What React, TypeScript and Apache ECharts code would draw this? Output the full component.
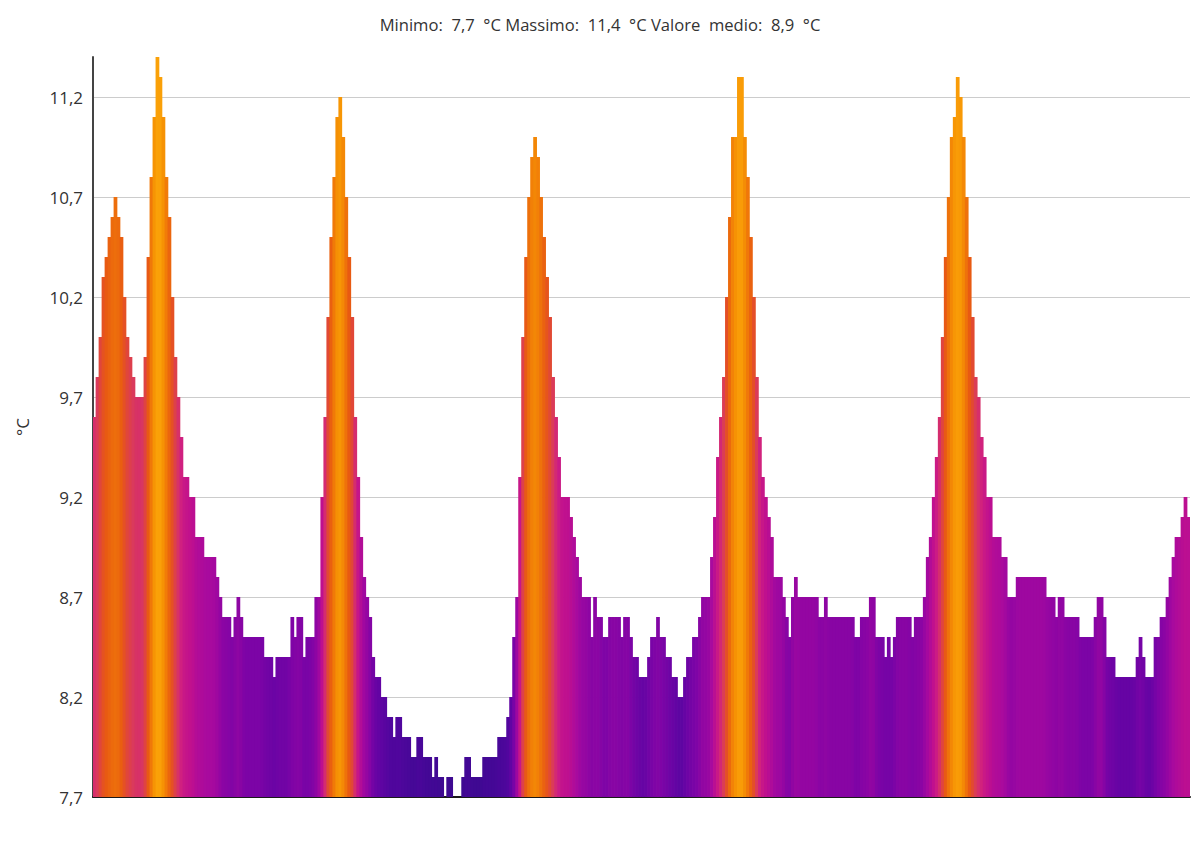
import React, { useEffect, useRef } from "react";
import * as echarts from "echarts";

// Temperature samples (°C), left to right
const values: number[] = [
  9.6, 9.8, 10.0, 10.3, 10.4, 10.5, 10.6, 10.7, 10.6, 10.5,
  10.2, 10.0, 9.9, 9.8, 9.7, 9.7, 9.7, 9.9, 10.4, 10.8,
  11.1, 11.4, 11.3, 11.1, 10.8, 10.6, 10.2, 9.9, 9.7, 9.5,
  9.3, 9.3, 9.2, 9.2, 9.0, 9.0, 9.0, 8.9, 8.9, 8.9,
  8.9, 8.8, 8.7, 8.6, 8.6, 8.6, 8.5, 8.6, 8.7, 8.6,
  8.5, 8.5, 8.5, 8.5, 8.5, 8.5, 8.5, 8.4, 8.4, 8.4,
  8.3, 8.4, 8.4, 8.4, 8.4, 8.4, 8.6, 8.5, 8.6, 8.6,
  8.4, 8.5, 8.5, 8.5, 8.7, 8.7, 9.2, 9.6, 10.1, 10.5,
  10.8, 11.1, 11.2, 11.0, 10.7, 10.4, 10.1, 9.6, 9.3, 9.0,
  8.8, 8.7, 8.6, 8.4, 8.3, 8.3, 8.2, 8.2, 8.1, 8.1,
  8.0, 8.1, 8.1, 8.0, 8.0, 8.0, 7.9, 7.9, 8.0, 8.0,
  7.9, 7.9, 7.9, 7.8, 7.9, 7.8, 7.8, 7.7, 7.8, 7.8,
  7.7, 7.7, 7.7, 7.8, 7.9, 7.9, 7.8, 7.8, 7.8, 7.8,
  7.9, 7.9, 7.9, 7.9, 7.9, 8.0, 8.0, 8.0, 8.1, 8.2,
  8.5, 8.7, 9.3, 10.0, 10.4, 10.7, 10.9, 11.0, 10.9, 10.7,
  10.5, 10.3, 10.1, 9.8, 9.6, 9.4, 9.2, 9.2, 9.2, 9.1,
  9.0, 8.9, 8.8, 8.7, 8.7, 8.7, 8.5, 8.7, 8.6, 8.6,
  8.5, 8.5, 8.6, 8.6, 8.6, 8.6, 8.5, 8.6, 8.6, 8.5,
  8.4, 8.4, 8.3, 8.3, 8.3, 8.4, 8.5, 8.5, 8.6, 8.5,
  8.5, 8.4, 8.4, 8.3, 8.3, 8.2, 8.2, 8.3, 8.4, 8.4,
  8.5, 8.5, 8.6, 8.7, 8.7, 8.7, 8.9, 9.1, 9.4, 9.6,
  9.8, 10.2, 10.6, 11.0, 11.0, 11.3, 11.3, 11.0, 10.8, 10.5,
  10.2, 9.8, 9.5, 9.3, 9.2, 9.1, 9.0, 8.8, 8.8, 8.8,
  8.7, 8.6, 8.5, 8.7, 8.8, 8.7, 8.7, 8.7, 8.7, 8.7,
  8.7, 8.7, 8.6, 8.6, 8.7, 8.6, 8.6, 8.6, 8.6, 8.6,
  8.6, 8.6, 8.6, 8.6, 8.5, 8.5, 8.6, 8.6, 8.6, 8.7,
  8.7, 8.5, 8.5, 8.5, 8.4, 8.5, 8.4, 8.5, 8.6, 8.6,
  8.6, 8.6, 8.6, 8.5, 8.6, 8.6, 8.6, 8.7, 8.9, 9.0,
  9.2, 9.4, 9.6, 10.0, 10.4, 10.7, 11.0, 11.1, 11.3, 11.2,
  11.0, 10.7, 10.4, 10.1, 9.8, 9.7, 9.5, 9.4, 9.2, 9.2,
  9.0, 9.0, 9.0, 8.9, 8.9, 8.7, 8.7, 8.7, 8.8, 8.8,
  8.8, 8.8, 8.8, 8.8, 8.8, 8.8, 8.8, 8.8, 8.7, 8.7,
  8.7, 8.6, 8.7, 8.7, 8.6, 8.6, 8.6, 8.6, 8.6, 8.5,
  8.5, 8.5, 8.5, 8.5, 8.6, 8.7, 8.7, 8.6, 8.4, 8.4,
  8.4, 8.3, 8.3, 8.3, 8.3, 8.3, 8.3, 8.3, 8.4, 8.5,
  8.4, 8.3, 8.3, 8.3, 8.5, 8.5, 8.6, 8.6, 8.7, 8.8,
  8.9, 9.0, 9.0, 9.1, 9.2, 9.1,
];

// Sample index categories (x axis has no labels)
const samples: number[] = values.map((_, i) => i);

// Summary shown in the title
const minimo = "7,7";
const massimo = "11,4";
const medio = "8,9";

// Y axis range and tick step
const yMin = 7.7;
const yMax = 11.4;
const yStep = 0.5;

// Colour ramp (temperature -> colour)
const rampStops: [number, string][] = [
  [7.7, "#3a0a8e"],
  [7.9, "#440896"],
  [8.1, "#52069e"],
  [8.3, "#6604a4"],
  [8.5, "#7c04a6"],
  [8.7, "#9406a2"],
  [8.9, "#a80a9e"],
  [9.2, "#c0108e"],
  [9.5, "#d02080"],
  [9.8, "#da3a5c"],
  [10.1, "#e24a30"],
  [10.4, "#e85a12"],
  [10.8, "#f07a08"],
  [11.1, "#f69404"],
  [11.4, "#fca80a"],
];

function hexToRgb(h: string): number[] {
  const n = parseInt(h.slice(1), 16);
  return [(n >> 16) & 255, (n >> 8) & 255, n & 255];
}

function rampColor(v: number): string {
  if (v <= rampStops[0][0]) return rampStops[0][1];
  for (let k = 1; k < rampStops.length; k++) {
    const [v1, c1] = rampStops[k];
    const [v0, c0] = rampStops[k - 1];
    if (v <= v1) {
      const t = (v - v0) / (v1 - v0);
      const a = hexToRgb(c0);
      const b = hexToRgb(c1);
      const m = a.map((x, j) => Math.round(x + (b[j] - x) * t));
      return `rgb(${m[0]},${m[1]},${m[2]})`;
    }
  }
  return rampStops[rampStops.length - 1][1];
}

// colour follows a lightly smoothed temperature
function smoothAt(i: number): number {
  let s = 0;
  let w = 0;
  for (let k = -1; k <= 1; k++) {
    const j = i + k;
    if (j < 0 || j >= values.length) continue;
    const wt = 2 - Math.abs(k);
    s += values[j] * wt;
    w += wt;
  }
  return s / w;
}

const NB = "\u00a0";

export default function App() {
  const ref = useRef<HTMLDivElement>(null);

  useEffect(() => {
    document.body.style.margin = "0";
    if (!ref.current) return;
    const chart = echarts.init(ref.current, undefined, { renderer: "svg" });
    const fmt = (v: number) => v.toFixed(1).replace(".", ",");

    chart.setOption({
      animation: false,
      backgroundColor: "#ffffff",
      title: {
        text:
          `Minimo:${NB} ${minimo}${NB} °C Massimo:${NB} ${massimo}${NB} °C ` +
          `Valore${NB} medio:${NB} ${medio}${NB} °C`,
        left: "center",
        top: 11,
        textStyle: {
          fontFamily: "Open Sans",
          fontSize: 16.6,
          fontWeight: "normal",
          color: "#333333",
        },
      },
      grid: { left: 93, right: 10, top: 57, bottom: 60 },
      xAxis: {
        type: "category",
        data: samples,
        boundaryGap: true,
        axisLine: { show: true, lineStyle: { color: "#1a1a1a", width: 2 } },
        axisTick: { show: false },
        axisLabel: { show: false },
        splitLine: { show: false },
      },
      yAxis: {
        type: "value",
        min: yMin,
        max: yMax,
        interval: yStep,
        name: "°C",
        nameLocation: "middle",
        nameGap: 62,
        nameRotate: 90,
        nameTextStyle: { fontFamily: "Open Sans", fontSize: 17, color: "#333333" },
        axisLine: { show: true, lineStyle: { color: "#444444", width: 2 } },
        axisTick: { show: false },
        axisLabel: {
          formatter: fmt,
          fontFamily: "Open Sans",
          fontSize: 17,
          color: "#333333",
          margin: 10,
          showMaxLabel: false,
        },
        splitLine: { show: true, showMaxLine: false, lineStyle: { color: "#cccccc", width: 1 } },
      },
      series: [
        {
          type: "bar",
          barWidth: "125%",
          barGap: "-100%",
          data: values.map((v, i) => {
            const c = rampColor(smoothAt(i));
            return {
              value: v,
              itemStyle: { color: c },
            };
          }),
        },
      ],
    });

    return () => chart.dispose();
  }, []);

  return <div ref={ref} style={{ width: 1200, height: 857 }} />;
}
